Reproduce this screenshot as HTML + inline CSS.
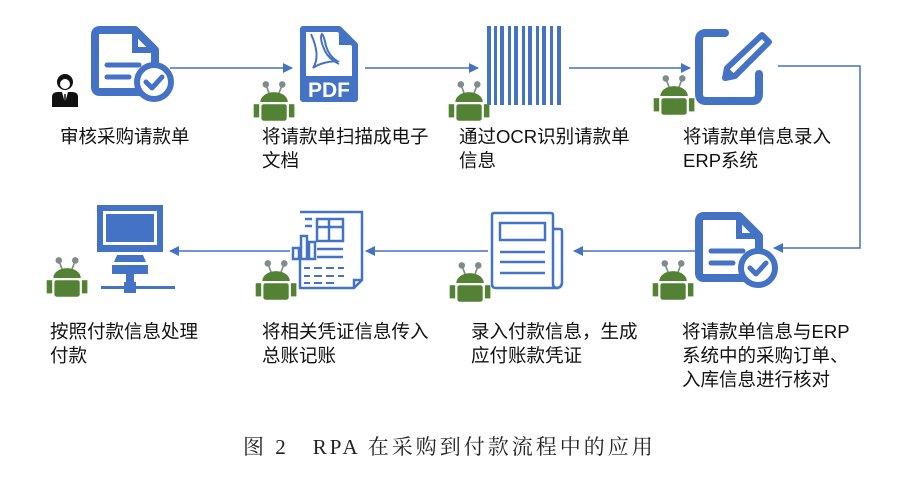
<!DOCTYPE html>
<html><head><meta charset="utf-8"><style>
body{margin:0;background:#fff}
svg{display:block}
.t{font-family:"Liberation Sans","Noto Sans CJK SC",sans-serif;font-size:18.5px;fill:#111}
.c{font-family:"Liberation Serif","Noto Serif CJK SC",serif;font-size:21px;fill:#222;letter-spacing:3px}
</style></head><body>
<svg width="911" height="481" viewBox="0 0 911 481" xmlns="http://www.w3.org/2000/svg">
<defs>
<g id="rb">
<line x1="8" y1="4" x2="11" y2="12" stroke="#7f8c8d" stroke-width="1.5"/>
<line x1="23" y1="4" x2="20" y2="12" stroke="#7f8c8d" stroke-width="1.5"/>
<circle cx="8" cy="4" r="3" fill="#7f8c8d"/><circle cx="23" cy="4" r="3" fill="#7f8c8d"/>
<path d="M3 20 A12.5 9 0 0 1 28 20 Z" fill="#548235"/>
<rect x="4" y="22" width="23" height="15" rx="2" fill="#548235"/>
<rect x="-3" y="22" width="5" height="12" fill="#548235"/>
<rect x="29" y="22" width="5" height="12" fill="#548235"/>
</g>
<g id="dc">
<path d="M52 66 H9 Q4 66 4 61 V9 Q4 4 9 4 H44 L64 24 V40" fill="none" stroke="#4472c4" stroke-width="8" stroke-linejoin="round"/>
<path d="M44 4 V24 H64" fill="none" stroke="#4472c4" stroke-width="6"/>
<line x1="16" y1="39" x2="48" y2="39" stroke="#4472c4" stroke-width="5" stroke-linecap="round"/>
<line x1="16" y1="51" x2="38" y2="51" stroke="#4472c4" stroke-width="5" stroke-linecap="round"/>
<circle cx="63" cy="56" r="17" fill="#fff" stroke="#4472c4" stroke-width="6"/>
<path d="M55 56 L61 62 L71 51" fill="none" stroke="#4472c4" stroke-width="5" stroke-linecap="round" stroke-linejoin="round"/>
</g>
<marker id="ah" markerWidth="10" markerHeight="10" refX="9" refY="5" orient="auto" markerUnits="userSpaceOnUse"><path d="M0 0 L10 5 L0 10 Z" fill="#4472c4"/></marker>
</defs>

<g stroke="#4472c4" stroke-width="1.5" fill="none">
<line x1="170" y1="68" x2="292" y2="68" marker-end="url(#ah)"/>
<line x1="365" y1="68" x2="478" y2="68" marker-end="url(#ah)"/>
<line x1="569" y1="68" x2="690" y2="68" marker-end="url(#ah)"/>
<polyline points="778,66 860,66 860,248 774,248" marker-end="url(#ah)"/>
<line x1="697" y1="251" x2="574" y2="251" marker-end="url(#ah)"/>
<line x1="488" y1="251" x2="366" y2="251" marker-end="url(#ah)"/>
<line x1="290" y1="251" x2="170" y2="251" marker-end="url(#ah)"/>
</g>

<g transform="translate(52,73)">
<circle cx="13" cy="9" r="8" fill="#111"/><circle cx="13" cy="11" r="5" fill="#fff"/>
<path d="M0 34 V24 Q0 19 6 19 H20 Q26 19 26 24 V34 Z" fill="#111"/>
<path d="M10 19 L13 30 L16 19 Z" fill="#fff"/><line x1="13" y1="21" x2="13" y2="30" stroke="#111" stroke-width="1.5"/>
</g>
<use href="#dc" transform="translate(91,26)"/>

<g transform="translate(299,26)">
<path d="M4 3 H40 L56 19 V73 H4 Z" fill="#fff" stroke="#4472c4" stroke-width="6" stroke-linejoin="round"/>
<path d="M40 3 V19 H56" fill="#4472c4"/>
<path d="M12 8 Q22 30 14 42 Q22 36 38 35 Q30 30 27 20 Q25 10 23 8 Q20 12 26 25 Q30 33 40 38" fill="none" stroke="#4472c4" stroke-width="2"/>
<rect x="4" y="50" width="52" height="25" fill="#4472c4"/>
<text x="30" y="71" text-anchor="middle" font-family="Liberation Sans,sans-serif" font-weight="bold" font-size="21" fill="#fff">PDF</text>
</g>
<use href="#rb" transform="translate(257,80) scale(1.1)"/>

<g fill="#4472c4">
<rect x="487" y="26" width="4" height="79"/><rect x="494" y="26" width="3" height="79"/><rect x="500" y="26" width="4" height="79"/>
<rect x="508" y="26" width="3" height="79"/><rect x="514" y="26" width="4" height="79"/><rect x="522" y="26" width="3" height="79"/>
<rect x="528" y="26" width="4" height="79"/><rect x="536" y="26" width="3" height="79"/><rect x="542" y="26" width="4" height="79"/>
<rect x="550" y="26" width="3" height="79"/><rect x="557" y="26" width="4" height="79"/>
</g>
<use href="#rb" transform="translate(452,80) scale(1.1)"/>

<g transform="translate(695,26)" fill="none" stroke="#4472c4" stroke-width="8" stroke-linecap="round" stroke-linejoin="round">
<path d="M64 48 V68 Q64 75 57 75 H11 Q4 75 4 68 V14 Q4 7 11 7 H30"/>
<path d="M67 9 L74 16 L40 50 L30 52 L32 42 Z" stroke-width="6" fill="#fff"/>
<path d="M31 51 L33 43 L39 49 Z" fill="#4472c4" stroke-width="2"/>
</g>
<use href="#rb" transform="translate(657,74) scale(1.1)"/>

<use href="#dc" transform="translate(695,212)"/>
<use href="#rb" transform="translate(656,259) scale(1.1)"/>

<g transform="translate(490,211)" fill="none" stroke="#4472c4" stroke-width="2.5">
<path d="M2 4 Q2 2 4 2 H61 Q63 2 63 4 V73 Q63 77 68 77 H6 Q2 77 2 73 Z"/>
<path d="M63 18 H70 Q72 18 72 20 V71 Q72 77 66 77"/>
<rect x="10" y="12" width="45" height="17"/>
<line x1="10" y1="41" x2="55" y2="41"/><line x1="10" y1="51" x2="55" y2="51"/><line x1="10" y1="62" x2="55" y2="62"/>
</g>
<use href="#rb" transform="translate(453,261) scale(1.1)"/>

<g transform="translate(292,210)" stroke="#4472c4" fill="none" stroke-width="2.5">
<path d="M8 2 H70 V70 L62 78 H8 V48"/>
<path d="M70 70 H62 V78" />
<rect x="25" y="9" width="26" height="22"/><line x1="25" y1="17" x2="51" y2="17"/><line x1="37" y1="9" x2="37" y2="31"/>
<line x1="13" y1="9" x2="20" y2="9"/><line x1="13" y1="16" x2="20" y2="16"/>
<rect x="1" y="38" width="6" height="11"/><rect x="9" y="26" width="6" height="23"/><rect x="17" y="32" width="6" height="17"/>
<line x1="25" y1="39" x2="51" y2="39"/><line x1="25" y1="47" x2="51" y2="47"/>
<line x1="12" y1="58" x2="18" y2="58" stroke-width="2"/><line x1="22" y1="58" x2="30" y2="58" stroke-width="2"/><line x1="34" y1="58" x2="42" y2="58" stroke-width="2"/><line x1="46" y1="58" x2="52" y2="58" stroke-width="2"/>
<line x1="12" y1="66" x2="18" y2="66" stroke-width="2"/><line x1="22" y1="66" x2="30" y2="66" stroke-width="2"/><line x1="34" y1="66" x2="42" y2="66" stroke-width="2"/><line x1="46" y1="66" x2="52" y2="66" stroke-width="2"/>
<line x1="12" y1="73" x2="18" y2="73" stroke-width="2"/><line x1="22" y1="73" x2="30" y2="73" stroke-width="2"/><line x1="34" y1="73" x2="42" y2="73" stroke-width="2"/>
</g>
<use href="#rb" transform="translate(259,259) scale(1.1)"/>

<g transform="translate(97,205)" fill="#4472c4">
<rect x="0" y="0" width="66" height="47"/>
<rect x="6" y="6" width="54" height="34" fill="#fff"/><rect x="9" y="9" width="48" height="28"/>
<path d="M20 50 H46 L49 57 H17 Z"/>
<rect x="15" y="60" width="36" height="9"/>
<rect x="29" y="69" width="8" height="8"/>
<rect x="27" y="77" width="12" height="11"/>
<rect x="4" y="81" width="74" height="3"/>
</g>
<use href="#rb" transform="translate(50,256) scale(1.1)"/>

<g class="t">
<text x="60" y="143">审核采购请款单</text>
<text x="262" y="143">将请款单扫描成电子</text><text x="262" y="167">文档</text>
<text x="459" y="143">通过OCR识别请款单</text><text x="459" y="167">信息</text>
<text x="683" y="143">将请款单信息录入</text><text x="683" y="167">ERP系统</text>
<text x="50" y="338">按照付款信息处理</text><text x="50" y="362">付款</text>
<text x="262" y="338">将相关凭证信息传入</text><text x="262" y="362">总账记账</text>
<text x="471" y="338">录入付款信息，生成</text><text x="471" y="362">应付账款凭证</text>
<text x="682" y="338">将请款单信息与ERP</text><text x="682" y="362">系统中的采购订单、</text><text x="682" y="386">入库信息进行核对</text>
</g>
<text class="c" x="243" y="454">图 2　RPA 在采购到付款流程中的应用</text>
</svg>
</body></html>
